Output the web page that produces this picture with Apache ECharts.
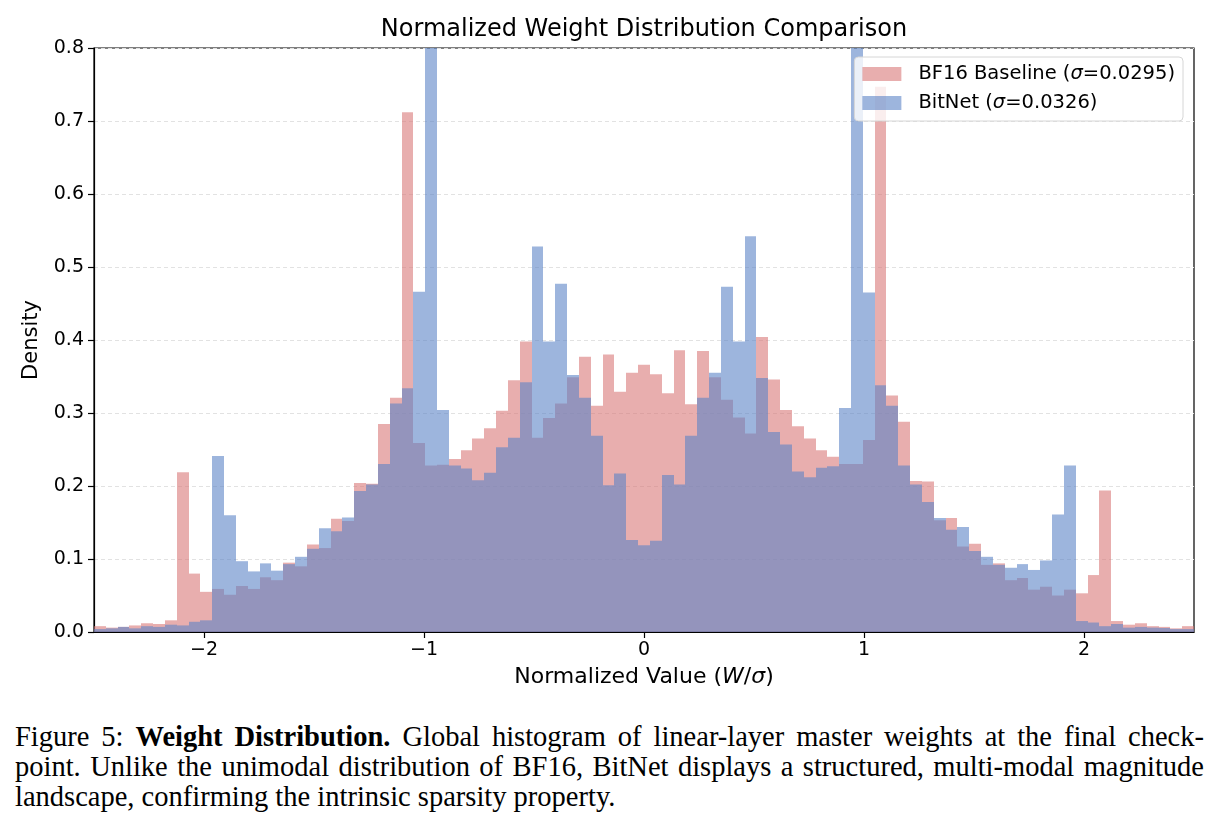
<!DOCTYPE html>
<html lang="en">
  <head>
    <meta charset="UTF-8" />
    <title>Normalized Weight Distribution Comparison</title>
    <script src="https://cdn.jsdelivr.net/npm/echarts@6.0.0/dist/echarts.min.js"></script>
    <style>
      body {
        margin: 0;
        background: #ffffff;
        width: 1219px;
        height: 824px;
        position: relative;
        overflow: hidden;
      }
      #chart {
        width: 1219px;
        height: 712px;
      }
      #caption {
        position: absolute;
        left: 15px;
        top: 722px;
        width: 1189px;
        font-family: "Liberation Serif", "Times New Roman", serif;
        font-size: 28.5px;
        line-height: 30px;
        color: #000;
      }
      #caption .j {
        text-align: justify;
        text-align-last: justify;
        white-space: nowrap;
      }
    </style>
  </head>
  <body>
    <div id="chart"></div>
    <div id="caption">
      <div class="j">Figure 5: <b>Weight Distribution.</b> Global histogram of linear-layer master weights at the final check-</div>
      <div class="j">point. Unlike the unimodal distribution of BF16, BitNet displays a structured, multi-modal magnitude</div>
      <div>landscape, confirming the intrinsic sparsity property.</div>
    </div>
    <script>
      // histogram: 93 equal bins over [-2.5, 2.5]
      const binMin = -2.5;
      const binMax = 2.5;
      const binCount = 93;

      // density per bin
      const bf16Density = [
        0.008, 0.006, 0.007, 0.009, 0.012, 0.011, 0.016, 0.219, 0.080, 0.055,
        0.059, 0.051, 0.063, 0.059, 0.075, 0.071, 0.095, 0.090, 0.120, 0.115,
        0.155, 0.152, 0.204, 0.203, 0.285, 0.321, 0.712, 0.259, 0.228, 0.229,
        0.237, 0.249, 0.265, 0.279, 0.303, 0.345, 0.398, 0.266, 0.293, 0.313,
        0.349, 0.377, 0.310, 0.380, 0.329, 0.355, 0.366, 0.353, 0.327, 0.386,
        0.312, 0.385, 0.349, 0.318, 0.294, 0.272, 0.404, 0.346, 0.304, 0.282,
        0.265, 0.249, 0.240, 0.230, 0.230, 0.263, 0.747, 0.324, 0.288, 0.207,
        0.206, 0.153, 0.156, 0.117, 0.121, 0.092, 0.094, 0.071, 0.074, 0.058,
        0.062, 0.050, 0.058, 0.053, 0.078, 0.194, 0.015, 0.010, 0.012, 0.008,
        0.007, 0.005, 0.008,
      ];
      // the two spikes near +-1 run past the 0.8 limit and are clipped
      const bitnetDensity = [
        0.004, 0.005, 0.007, 0.005, 0.008, 0.007, 0.010, 0.009, 0.014, 0.016,
        0.241, 0.160, 0.097, 0.083, 0.094, 0.084, 0.093, 0.103, 0.114, 0.142,
        0.138, 0.157, 0.193, 0.202, 0.230, 0.313, 0.334, 0.466, 0.930, 0.304,
        0.228, 0.224, 0.208, 0.218, 0.253, 0.266, 0.342, 0.528, 0.398, 0.477,
        0.352, 0.321, 0.269, 0.201, 0.217, 0.126, 0.119, 0.125, 0.215, 0.202,
        0.269, 0.321, 0.355, 0.473, 0.398, 0.542, 0.348, 0.274, 0.257, 0.220,
        0.212, 0.225, 0.227, 0.307, 0.930, 0.465, 0.338, 0.310, 0.228, 0.202,
        0.178, 0.156, 0.140, 0.144, 0.111, 0.103, 0.092, 0.088, 0.093, 0.085,
        0.098, 0.161, 0.228, 0.015, 0.013, 0.008, 0.011, 0.006, 0.007, 0.006,
        0.0055, 0.004, 0.004,
      ];

      const seriesNames = ["BF16 Baseline (σ=0.0295)", "BitNet (σ=0.0326)"];
      const xTicks = [-2, -1, 0, 1, 2];

      const binWidth = (binMax - binMin) / binCount;
      function toBins(values) {
        return values.map((v, i) => [
          binMin + i * binWidth,
          binMin + (i + 1) * binWidth,
          v,
        ]);
      }

      function renderBin(params, api) {
        const lo = api.coord([api.value(0), 0]);
        const hi = api.coord([api.value(1), api.value(2)]);
        const x0 = Math.round(lo[0]);
        const x1 = Math.round(hi[0]);
        const rect = echarts.graphic.clipRectByRect(
          { x: x0, y: hi[1], width: x1 - x0, height: lo[1] - hi[1] },
          {
            x: params.coordSys.x,
            y: params.coordSys.y,
            width: params.coordSys.width,
            height: params.coordSys.height,
          }
        );
        return (
          rect && {
            type: "rect",
            shape: rect,
            style: { fill: api.visual("color") },
          }
        );
      }

      const font = "DejaVu Sans";
      const chart = echarts.init(document.getElementById("chart"));

      const options = {
        animation: false,
        textStyle: { fontFamily: font, color: "#000" },
        title: {
          text: "Normalized Weight Distribution Comparison",
          left: 644,
          textAlign: "center",
          top: 18,
          padding: 0,
          textStyle: {
            fontFamily: font,
            fontSize: 24,
            fontWeight: "normal",
            color: "#000",
          },
        },
        legend: {
          orient: "vertical",
          right: 36,
          top: 57,
          padding: [6, 8, 7, 8],
          itemGap: 7,
          itemWidth: 39,
          itemHeight: 14,
          icon: "rect",
          backgroundColor: "rgba(255,255,255,0.8)",
          borderColor: "#d6d6d6",
          borderWidth: 1,
          borderRadius: 4,
          formatter: (name) => name.replace("σ", "{i|σ}"),
          textStyle: {
            fontFamily: font,
            fontSize: 19.5,
            color: "#000",
            lineHeight: 22,
            padding: [0, 0, 0, 12],
            rich: {
              i: { fontFamily: font, fontSize: 19.5, fontStyle: "italic" },
            },
          },
          data: seriesNames,
        },
        grid: {
          left: 94,
          right: 25,
          top: 48,
          height: 584,
          show: true,
          borderColor: "#000",
          borderWidth: 1.2,
          backgroundColor: "transparent",
        },
        xAxis: {
          type: "value",
          min: binMin,
          max: binMax,
          name: "Normalized Value ({i|W}/{i|σ})",
          nameLocation: "middle",
          nameGap: 34,
          nameTextStyle: {
            fontFamily: font,
            fontSize: 22,
            color: "#000",
            rich: {
              i: { fontFamily: font, fontSize: 22, fontStyle: "italic" },
            },
          },
          axisLine: { lineStyle: { color: "#000", width: 1.2 } },
          axisTick: {
            length: 6,
            lineStyle: { color: "#000", width: 1.2 },
            customValues: xTicks,
          },
          axisLabel: {
            fontFamily: font,
            fontSize: 19,
            color: "#000",
            margin: 9,
            customValues: xTicks,
            formatter: (v) => (v < 0 ? "\u2212" + Math.abs(v) : String(v)),
          },
          splitLine: { show: false },
        },
        yAxis: {
          type: "value",
          min: 0,
          max: 0.8,
          interval: 0.1,
          name: "Density",
          nameLocation: "middle",
          nameGap: 52,
          nameTextStyle: { fontFamily: font, fontSize: 21, color: "#000" },
          axisLine: {
            show: true,
            onZero: false,
            lineStyle: { color: "#000", width: 1.2 },
          },
          axisTick: {
            show: true,
            length: 6,
            lineStyle: { color: "#000", width: 1.2 },
          },
          axisLabel: {
            fontFamily: font,
            fontSize: 19,
            color: "#000",
            margin: 10,
            formatter: (v) => v.toFixed(1),
          },
          splitLine: {
            lineStyle: { type: [4, 3], color: "#e2e2e2", width: 1 },
          },
        },
        series: [
          {
            name: seriesNames[0],
            type: "custom",
            renderItem: renderBin,
            encode: { x: [0, 1], y: 2 },
            itemStyle: { color: "rgba(217,120,120,0.6)" },
            data: toBins(bf16Density),
          },
          {
            name: seriesNames[1],
            type: "custom",
            renderItem: renderBin,
            encode: { x: [0, 1], y: 2 },
            itemStyle: { color: "rgba(92,132,198,0.6)" },
            data: toBins(bitnetDensity),
          },
        ],
      };

      chart.setOption(options);
    </script>
  </body>
</html>
